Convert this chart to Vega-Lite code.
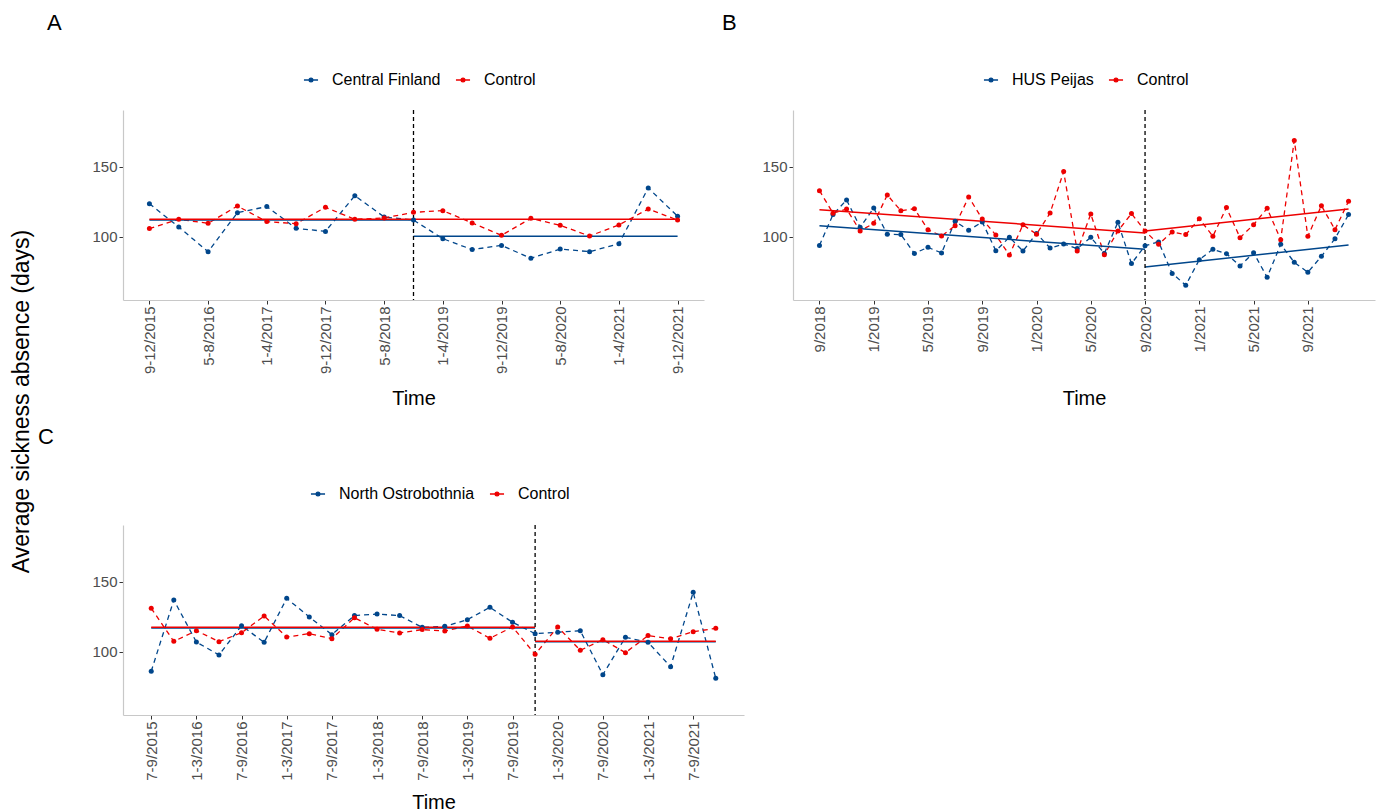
{
  "$schema": "https://vega.github.io/schema/vega-lite/v6.json",
  "background": "white",
  "padding": {"left": 10, "top": 12, "right": 2, "bottom": 2},
  "config": {
    "view": {"stroke": null},
    "font": "Liberation Sans",
    "axis": {"grid": false, "domainColor": "#C8C8C8", "domainWidth": 1.2, "tickColor": "#333333", "tickSize": 4, "tickWidth": 1, "labelFontSize": 15, "labelColor": "#4D4D4D", "labelPadding": 2, "labelFlush": false, "labelOverlap": false, "titleFontSize": 20, "titleFontWeight": "normal", "titleColor": "#000000"},
    "legend": {"title": null, "orient": "none", "direction": "horizontal", "labelFontSize": 16, "labelColor": "#000000", "labelOffset": 13, "columnPadding": 12, "symbolType": "M-1.05,0H1.05M0.28,0A0.28,0.28,0,1,1,-0.28,0A0.28,0.28,0,1,1,0.28,0Z", "symbolSize": 180, "symbolStrokeWidth": 1.3, "symbolOpacity": 1},
    "title": {"fontSize": 22, "fontWeight": "normal", "anchor": "start", "frame": "group", "color": "#000000", "offset": 37}
  },
  "datasets": {
    "A_obs": [
      {"i":0,"period":"9-12/2015","group":"Central Finland","value":123.8},
      {"i":1,"period":"1-4/2016","group":"Central Finland","value":107.1},
      {"i":2,"period":"5-8/2016","group":"Central Finland","value":89.5},
      {"i":3,"period":"9-12/2016","group":"Central Finland","value":117.4},
      {"i":4,"period":"1-4/2017","group":"Central Finland","value":121.7},
      {"i":5,"period":"5-8/2017","group":"Central Finland","value":106.2},
      {"i":6,"period":"9-12/2017","group":"Central Finland","value":104.0},
      {"i":7,"period":"1-4/2018","group":"Central Finland","value":129.5},
      {"i":8,"period":"5-8/2018","group":"Central Finland","value":114.3},
      {"i":9,"period":"9-12/2018","group":"Central Finland","value":112.1},
      {"i":10,"period":"1-4/2019","group":"Central Finland","value":98.8},
      {"i":11,"period":"5-8/2019","group":"Central Finland","value":91.0},
      {"i":12,"period":"9-12/2019","group":"Central Finland","value":94.0},
      {"i":13,"period":"1-4/2020","group":"Central Finland","value":84.8},
      {"i":14,"period":"5-8/2020","group":"Central Finland","value":91.4},
      {"i":15,"period":"9-12/2020","group":"Central Finland","value":89.5},
      {"i":16,"period":"1-4/2021","group":"Central Finland","value":95.2},
      {"i":17,"period":"5-8/2021","group":"Central Finland","value":135.0},
      {"i":18,"period":"9-12/2021","group":"Central Finland","value":114.8},
      {"i":0,"period":"9-12/2015","group":"Control","value":106.0},
      {"i":1,"period":"1-4/2016","group":"Control","value":112.6},
      {"i":2,"period":"5-8/2016","group":"Control","value":109.8},
      {"i":3,"period":"9-12/2016","group":"Control","value":122.1},
      {"i":4,"period":"1-4/2017","group":"Control","value":111.0},
      {"i":5,"period":"5-8/2017","group":"Control","value":109.5},
      {"i":6,"period":"9-12/2017","group":"Control","value":121.2},
      {"i":7,"period":"1-4/2018","group":"Control","value":112.6},
      {"i":8,"period":"5-8/2018","group":"Control","value":113.6},
      {"i":9,"period":"9-12/2018","group":"Control","value":117.6},
      {"i":10,"period":"1-4/2019","group":"Control","value":118.8},
      {"i":11,"period":"5-8/2019","group":"Control","value":110.0},
      {"i":12,"period":"9-12/2019","group":"Control","value":101.2},
      {"i":13,"period":"1-4/2020","group":"Control","value":113.3},
      {"i":14,"period":"5-8/2020","group":"Control","value":108.3},
      {"i":15,"period":"9-12/2020","group":"Control","value":100.7},
      {"i":16,"period":"1-4/2021","group":"Control","value":108.6},
      {"i":17,"period":"5-8/2021","group":"Control","value":120.0},
      {"i":18,"period":"9-12/2021","group":"Control","value":112.1}
    ],
    "A_fit": [
      {"i":0,"group":"Central Finland","seg":"pre","value":112.1},
      {"i":9,"group":"Central Finland","seg":"pre","value":112.1},
      {"i":9,"group":"Central Finland","seg":"post","value":100.5},
      {"i":18,"group":"Central Finland","seg":"post","value":100.5},
      {"i":0,"group":"Control","seg":"pre","value":112.6},
      {"i":9,"group":"Control","seg":"pre","value":112.6},
      {"i":9,"group":"Control","seg":"post","value":112.6},
      {"i":18,"group":"Control","seg":"post","value":112.6}
    ],
    "B_obs": [
      {"i":0,"month":"9/2018","group":"HUS Peijas","value":94.0},
      {"i":1,"month":"10/2018","group":"HUS Peijas","value":116.0},
      {"i":2,"month":"11/2018","group":"HUS Peijas","value":126.5},
      {"i":3,"month":"12/2018","group":"HUS Peijas","value":106.9},
      {"i":4,"month":"1/2019","group":"HUS Peijas","value":120.7},
      {"i":5,"month":"2/2019","group":"HUS Peijas","value":101.9},
      {"i":6,"month":"3/2019","group":"HUS Peijas","value":101.7},
      {"i":7,"month":"4/2019","group":"HUS Peijas","value":88.3},
      {"i":8,"month":"5/2019","group":"HUS Peijas","value":92.6},
      {"i":9,"month":"6/2019","group":"HUS Peijas","value":88.6},
      {"i":10,"month":"7/2019","group":"HUS Peijas","value":111.2},
      {"i":11,"month":"8/2019","group":"HUS Peijas","value":104.8},
      {"i":12,"month":"9/2019","group":"HUS Peijas","value":110.7},
      {"i":13,"month":"10/2019","group":"HUS Peijas","value":90.2},
      {"i":14,"month":"11/2019","group":"HUS Peijas","value":99.8},
      {"i":15,"month":"12/2019","group":"HUS Peijas","value":90.0},
      {"i":16,"month":"1/2020","group":"HUS Peijas","value":102.5},
      {"i":17,"month":"2/2020","group":"HUS Peijas","value":92.1},
      {"i":18,"month":"3/2020","group":"HUS Peijas","value":95.0},
      {"i":19,"month":"4/2020","group":"HUS Peijas","value":91.7},
      {"i":20,"month":"5/2020","group":"HUS Peijas","value":99.8},
      {"i":21,"month":"6/2020","group":"HUS Peijas","value":88.3},
      {"i":22,"month":"7/2020","group":"HUS Peijas","value":110.5},
      {"i":23,"month":"8/2020","group":"HUS Peijas","value":81.0},
      {"i":24,"month":"9/2020","group":"HUS Peijas","value":93.8},
      {"i":25,"month":"10/2020","group":"HUS Peijas","value":96.4},
      {"i":26,"month":"11/2020","group":"HUS Peijas","value":74.0},
      {"i":27,"month":"12/2020","group":"HUS Peijas","value":65.5},
      {"i":28,"month":"1/2021","group":"HUS Peijas","value":83.8},
      {"i":29,"month":"2/2021","group":"HUS Peijas","value":91.2},
      {"i":30,"month":"3/2021","group":"HUS Peijas","value":88.1},
      {"i":31,"month":"4/2021","group":"HUS Peijas","value":79.3},
      {"i":32,"month":"5/2021","group":"HUS Peijas","value":88.8},
      {"i":33,"month":"6/2021","group":"HUS Peijas","value":71.2},
      {"i":34,"month":"7/2021","group":"HUS Peijas","value":94.8},
      {"i":35,"month":"8/2021","group":"HUS Peijas","value":81.9},
      {"i":36,"month":"9/2021","group":"HUS Peijas","value":74.8},
      {"i":37,"month":"10/2021","group":"HUS Peijas","value":86.2},
      {"i":38,"month":"11/2021","group":"HUS Peijas","value":98.8},
      {"i":39,"month":"12/2021","group":"HUS Peijas","value":116.0},
      {"i":0,"month":"9/2018","group":"Control","value":133.1},
      {"i":1,"month":"10/2018","group":"Control","value":117.0},
      {"i":2,"month":"11/2018","group":"Control","value":120.0},
      {"i":3,"month":"12/2018","group":"Control","value":104.3},
      {"i":4,"month":"1/2019","group":"Control","value":109.8},
      {"i":5,"month":"2/2019","group":"Control","value":130.0},
      {"i":6,"month":"3/2019","group":"Control","value":118.8},
      {"i":7,"month":"4/2019","group":"Control","value":120.2},
      {"i":8,"month":"5/2019","group":"Control","value":105.2},
      {"i":9,"month":"6/2019","group":"Control","value":100.7},
      {"i":10,"month":"7/2019","group":"Control","value":108.1},
      {"i":11,"month":"8/2019","group":"Control","value":128.6},
      {"i":12,"month":"9/2019","group":"Control","value":112.8},
      {"i":13,"month":"10/2019","group":"Control","value":101.4},
      {"i":14,"month":"11/2019","group":"Control","value":87.1},
      {"i":15,"month":"12/2019","group":"Control","value":108.7},
      {"i":16,"month":"1/2020","group":"Control","value":102.0},
      {"i":17,"month":"2/2020","group":"Control","value":117.1},
      {"i":18,"month":"3/2020","group":"Control","value":146.7},
      {"i":19,"month":"4/2020","group":"Control","value":90.0},
      {"i":20,"month":"5/2020","group":"Control","value":116.4},
      {"i":21,"month":"6/2020","group":"Control","value":87.4},
      {"i":22,"month":"7/2020","group":"Control","value":104.3},
      {"i":23,"month":"8/2020","group":"Control","value":116.7},
      {"i":24,"month":"9/2020","group":"Control","value":104.3},
      {"i":25,"month":"10/2020","group":"Control","value":94.8},
      {"i":26,"month":"11/2020","group":"Control","value":103.6},
      {"i":27,"month":"12/2020","group":"Control","value":101.7},
      {"i":28,"month":"1/2021","group":"Control","value":113.1},
      {"i":29,"month":"2/2021","group":"Control","value":100.5},
      {"i":30,"month":"3/2021","group":"Control","value":121.0},
      {"i":31,"month":"4/2021","group":"Control","value":99.5},
      {"i":32,"month":"5/2021","group":"Control","value":108.8},
      {"i":33,"month":"6/2021","group":"Control","value":120.5},
      {"i":34,"month":"7/2021","group":"Control","value":98.1},
      {"i":35,"month":"8/2021","group":"Control","value":169.0},
      {"i":36,"month":"9/2021","group":"Control","value":100.5},
      {"i":37,"month":"10/2021","group":"Control","value":122.4},
      {"i":38,"month":"11/2021","group":"Control","value":105.2},
      {"i":39,"month":"12/2021","group":"Control","value":125.5}
    ],
    "B_fit": [
      {"i":0,"group":"HUS Peijas","seg":"pre","value":108.1},
      {"i":24,"group":"HUS Peijas","seg":"pre","value":91.2},
      {"i":24,"group":"HUS Peijas","seg":"post","value":78.6},
      {"i":39,"group":"HUS Peijas","seg":"post","value":94.3},
      {"i":0,"group":"Control","seg":"pre","value":119.5},
      {"i":24,"group":"Control","seg":"pre","value":102.9},
      {"i":24,"group":"Control","seg":"post","value":104.3},
      {"i":39,"group":"Control","seg":"post","value":120.0}
    ],
    "C_obs": [
      {"i":0,"quarter":"7-9/2015","group":"North Ostrobothnia","value":86.2},
      {"i":1,"quarter":"10-12/2015","group":"North Ostrobothnia","value":137.1},
      {"i":2,"quarter":"1-3/2016","group":"North Ostrobothnia","value":107.1},
      {"i":3,"quarter":"4-6/2016","group":"North Ostrobothnia","value":97.9},
      {"i":4,"quarter":"7-9/2016","group":"North Ostrobothnia","value":118.8},
      {"i":5,"quarter":"10-12/2016","group":"North Ostrobothnia","value":106.9},
      {"i":6,"quarter":"1-3/2017","group":"North Ostrobothnia","value":138.3},
      {"i":7,"quarter":"4-6/2017","group":"North Ostrobothnia","value":125.0},
      {"i":8,"quarter":"7-9/2017","group":"North Ostrobothnia","value":112.4},
      {"i":9,"quarter":"10-12/2017","group":"North Ostrobothnia","value":126.0},
      {"i":10,"quarter":"1-3/2018","group":"North Ostrobothnia","value":127.1},
      {"i":11,"quarter":"4-6/2018","group":"North Ostrobothnia","value":126.0},
      {"i":12,"quarter":"7-9/2018","group":"North Ostrobothnia","value":117.6},
      {"i":13,"quarter":"10-12/2018","group":"North Ostrobothnia","value":118.3},
      {"i":14,"quarter":"1-3/2019","group":"North Ostrobothnia","value":123.1},
      {"i":15,"quarter":"4-6/2019","group":"North Ostrobothnia","value":131.9},
      {"i":16,"quarter":"7-9/2019","group":"North Ostrobothnia","value":121.2},
      {"i":17,"quarter":"10-12/2019","group":"North Ostrobothnia","value":113.1},
      {"i":18,"quarter":"1-3/2020","group":"North Ostrobothnia","value":114.1},
      {"i":19,"quarter":"4-6/2020","group":"North Ostrobothnia","value":115.2},
      {"i":20,"quarter":"7-9/2020","group":"North Ostrobothnia","value":83.8},
      {"i":21,"quarter":"10-12/2020","group":"North Ostrobothnia","value":110.5},
      {"i":22,"quarter":"1-3/2021","group":"North Ostrobothnia","value":106.9},
      {"i":23,"quarter":"4-6/2021","group":"North Ostrobothnia","value":89.5},
      {"i":24,"quarter":"7-9/2021","group":"North Ostrobothnia","value":142.6},
      {"i":25,"quarter":"10-12/2021","group":"North Ostrobothnia","value":81.2},
      {"i":0,"quarter":"7-9/2015","group":"Control","value":131.2},
      {"i":1,"quarter":"10-12/2015","group":"Control","value":107.6},
      {"i":2,"quarter":"1-3/2016","group":"Control","value":115.2},
      {"i":3,"quarter":"4-6/2016","group":"Control","value":107.4},
      {"i":4,"quarter":"7-9/2016","group":"Control","value":113.8},
      {"i":5,"quarter":"10-12/2016","group":"Control","value":125.7},
      {"i":6,"quarter":"1-3/2017","group":"Control","value":110.7},
      {"i":7,"quarter":"4-6/2017","group":"Control","value":113.1},
      {"i":8,"quarter":"7-9/2017","group":"Control","value":109.5},
      {"i":9,"quarter":"10-12/2017","group":"Control","value":124.5},
      {"i":10,"quarter":"1-3/2018","group":"Control","value":116.2},
      {"i":11,"quarter":"4-6/2018","group":"Control","value":113.6},
      {"i":12,"quarter":"7-9/2018","group":"Control","value":116.0},
      {"i":13,"quarter":"10-12/2018","group":"Control","value":115.0},
      {"i":14,"quarter":"1-3/2019","group":"Control","value":118.6},
      {"i":15,"quarter":"4-6/2019","group":"Control","value":109.8},
      {"i":16,"quarter":"7-9/2019","group":"Control","value":117.9},
      {"i":17,"quarter":"10-12/2019","group":"Control","value":98.3},
      {"i":18,"quarter":"1-3/2020","group":"Control","value":117.9},
      {"i":19,"quarter":"4-6/2020","group":"Control","value":101.2},
      {"i":20,"quarter":"7-9/2020","group":"Control","value":108.8},
      {"i":21,"quarter":"10-12/2020","group":"Control","value":99.5},
      {"i":22,"quarter":"1-3/2021","group":"Control","value":111.7},
      {"i":23,"quarter":"4-6/2021","group":"Control","value":109.5},
      {"i":24,"quarter":"7-9/2021","group":"Control","value":114.5},
      {"i":25,"quarter":"10-12/2021","group":"Control","value":116.9}
    ],
    "C_fit": [
      {"i":0,"group":"North Ostrobothnia","seg":"pre","value":117.2},
      {"i":17,"group":"North Ostrobothnia","seg":"pre","value":117.2},
      {"i":17,"group":"North Ostrobothnia","seg":"post","value":107.4},
      {"i":25,"group":"North Ostrobothnia","seg":"post","value":107.4},
      {"i":0,"group":"Control","seg":"pre","value":117.6},
      {"i":17,"group":"Control","seg":"pre","value":117.6},
      {"i":17,"group":"Control","seg":"post","value":107.6},
      {"i":25,"group":"Control","seg":"post","value":107.6}
    ]
  },
  "bounds": "flush",
  "spacing": 415,
  "resolve": {"scale": {"color": "independent", "x": "independent", "y": "independent"}, "legend": {"color": "independent"}},
  "vconcat": [
    {
      "bounds": "flush",
      "spacing": 89,
      "resolve": {"scale": {"color": "independent", "x": "independent", "y": "independent"}, "legend": {"color": "independent"}},
      "hconcat": [
        {
          "width": 581, "height": 190,
          "title": {"text": "A", "dx": -76},
          "layer": [
            {"data": {"name": "A_obs"}, "mark": {"type": "line", "strokeDash": [5, 4], "strokeWidth": 1.3},
             "encoding": {
               "x": {"field": "i", "type": "quantitative", "scale": {"domain": [-0.9, 18.9], "nice": false, "zero": false},
                     "axis": {"values": [0,2,4,6,8,10,12,14,16,18], "labelOverlap": false, "labelAngle": -90, "labelExpr": "['9-12/2015','1-4/2016','5-8/2016','9-12/2016','1-4/2017','5-8/2017','9-12/2017','1-4/2018','5-8/2018','9-12/2018','1-4/2019','5-8/2019','9-12/2019','1-4/2020','5-8/2020','9-12/2020','1-4/2021','5-8/2021','9-12/2021'][datum.value]", "title": "Time", "titleY": 98, "titleBaseline": "middle"}},
               "y": {"field": "value", "type": "quantitative", "scale": {"domain": [55, 190.7], "nice": false, "zero": false},
                     "axis": {"values": [100, 150], "title": "Average sickness absence (days)", "titleFontSize": 23, "titleX": -102, "titleY": 291, "titleBaseline": "middle", "titleAlign": "center", "titleAngle": -90}},
               "color": {"field": "group", "type": "nominal", "scale": {"domain": ["Central Finland", "Control"], "range": ["#00468B", "#ED0000"]}, "legend": {"legendX": 180, "legendY": -38}}
             }},
            {"data": {"name": "A_fit"}, "mark": {"type": "line", "strokeWidth": 1.5},
             "encoding": {
               "x": {"field": "i", "type": "quantitative"},
               "y": {"field": "value", "type": "quantitative"},
               "color": {"field": "group", "type": "nominal"},
               "detail": {"field": "seg"}
             }},
            {"data": {"values": [{}]}, "mark": {"type": "rule", "color": "#000000", "strokeDash": [4, 3], "strokeWidth": 1.3},
             "encoding": {"x": {"datum": 9, "type": "quantitative"}}},
            {"data": {"name": "A_obs"}, "mark": {"type": "point", "filled": true, "size": 25, "opacity": 1},
             "encoding": {
               "x": {"field": "i", "type": "quantitative"},
               "y": {"field": "value", "type": "quantitative"},
               "color": {"field": "group", "type": "nominal"}
             }}
          ]
        },
        {
          "width": 582, "height": 190,
          "title": {"text": "B", "dx": -71},
          "layer": [
            {"data": {"name": "B_obs"}, "mark": {"type": "line", "strokeDash": [5, 4], "strokeWidth": 1.3},
             "encoding": {
               "x": {"field": "i", "type": "quantitative", "scale": {"domain": [-1.95, 40.95], "nice": false, "zero": false},
                     "axis": {"values": [0,2,4,6,8,10,12,14,16,18,20,22,24,26,28,30,32,34,36,38], "labelOverlap": false, "labelAngle": -90, "labelExpr": "['9/2018','10/2018','11/2018','12/2018','1/2019','2/2019','3/2019','4/2019','5/2019','6/2019','7/2019','8/2019','9/2019','10/2019','11/2019','12/2019','1/2020','2/2020','3/2020','4/2020','5/2020','6/2020','7/2020','8/2020','9/2020','10/2020','11/2020','12/2020','1/2021','2/2021','3/2021','4/2021','5/2021','6/2021','7/2021','8/2021','9/2021','10/2021','11/2021','12/2021'][datum.value]", "title": "Time", "titleY": 98, "titleBaseline": "middle"}},
               "y": {"field": "value", "type": "quantitative", "scale": {"domain": [55, 190.7], "nice": false, "zero": false},
                     "axis": {"values": [100, 150], "title": null}},
               "color": {"field": "group", "type": "nominal", "scale": {"domain": ["HUS Peijas", "Control"], "range": ["#00468B", "#ED0000"]}, "legend": {"legendX": 190, "legendY": -38}}
             }},
            {"data": {"name": "B_fit"}, "mark": {"type": "line", "strokeWidth": 1.5},
             "encoding": {
               "x": {"field": "i", "type": "quantitative"},
               "y": {"field": "value", "type": "quantitative"},
               "color": {"field": "group", "type": "nominal"},
               "detail": {"field": "seg"}
             }},
            {"data": {"values": [{}]}, "mark": {"type": "rule", "color": "#000000", "strokeDash": [4, 3], "strokeWidth": 1.3},
             "encoding": {"x": {"datum": 24, "type": "quantitative"}}},
            {"data": {"name": "B_obs"}, "mark": {"type": "point", "filled": true, "size": 25, "opacity": 1},
             "encoding": {
               "x": {"field": "i", "type": "quantitative"},
               "y": {"field": "value", "type": "quantitative"},
               "color": {"field": "group", "type": "nominal"}
             }}
          ]
        }
      ]
    },
    {
      "width": 621, "height": 190,
      "title": {"text": "C", "dx": -85},
      "layer": [
        {"data": {"name": "C_obs"}, "mark": {"type": "line", "strokeDash": [5, 4], "strokeWidth": 1.3},
         "encoding": {
           "x": {"field": "i", "type": "quantitative", "scale": {"domain": [-1.25, 26.25], "nice": false, "zero": false},
                 "axis": {"values": [0,2,4,6,8,10,12,14,16,18,20,22,24], "labelOverlap": false, "labelAngle": -90, "labelExpr": "['7-9/2015','10-12/2015','1-3/2016','4-6/2016','7-9/2016','10-12/2016','1-3/2017','4-6/2017','7-9/2017','10-12/2017','1-3/2018','4-6/2018','7-9/2018','10-12/2018','1-3/2019','4-6/2019','7-9/2019','10-12/2019','1-3/2020','4-6/2020','7-9/2020','10-12/2020','1-3/2021','4-6/2021','7-9/2021','10-12/2021'][datum.value]", "title": "Time", "titleY": 87, "titleBaseline": "middle"}},
           "y": {"field": "value", "type": "quantitative", "scale": {"domain": [55, 190.7], "nice": false, "zero": false},
                 "axis": {"values": [100, 150], "title": null}},
           "color": {"field": "group", "type": "nominal", "scale": {"domain": ["North Ostrobothnia", "Control"], "range": ["#00468B", "#ED0000"]}, "legend": {"legendX": 187, "legendY": -39}}
         }},
        {"data": {"name": "C_fit"}, "mark": {"type": "line", "strokeWidth": 1.5},
         "encoding": {
           "x": {"field": "i", "type": "quantitative"},
           "y": {"field": "value", "type": "quantitative"},
           "color": {"field": "group", "type": "nominal"},
           "detail": {"field": "seg"}
         }},
        {"data": {"values": [{}]}, "mark": {"type": "rule", "color": "#000000", "strokeDash": [4, 3], "strokeWidth": 1.3},
         "encoding": {"x": {"datum": 17, "type": "quantitative"}}},
        {"data": {"name": "C_obs"}, "mark": {"type": "point", "filled": true, "size": 25, "opacity": 1},
         "encoding": {
           "x": {"field": "i", "type": "quantitative"},
           "y": {"field": "value", "type": "quantitative"},
           "color": {"field": "group", "type": "nominal"}
         }}
      ]
    }
  ]
}
